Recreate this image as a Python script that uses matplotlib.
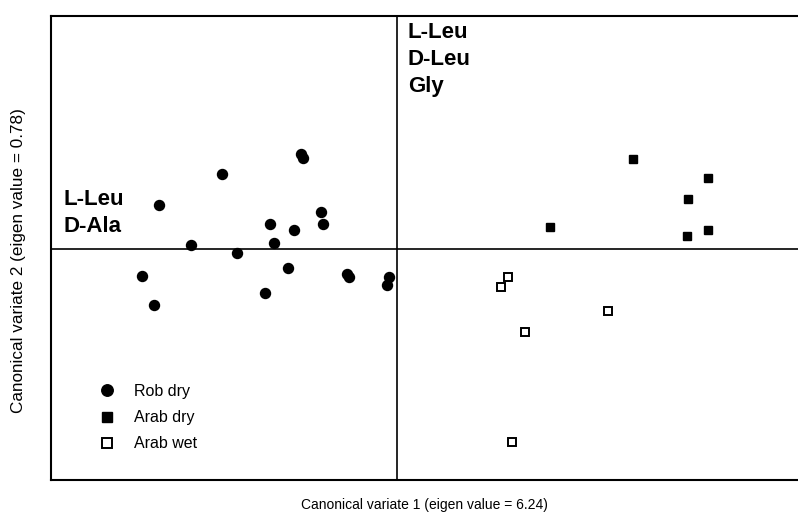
import numpy as np
import matplotlib
matplotlib.use("Agg")
import matplotlib.pyplot as plt

plt.rcParams['font.family'] = ['Liberation Sans', 'DejaVu Sans']

# canonical variate scores per group (CV1, CV2)
rob_dry_x = [-4.76, -3.50, -1.92, -1.88, -4.12, -3.20, -2.54, -2.46, -2.06, -1.52,
             -1.48, -5.10, -4.86, -2.18, -2.64, -1.00, -0.96, -0.16, -0.20]
rob_dry_y = [0.88, 1.50, 1.90, 1.82, 0.08, -0.08, 0.50, 0.12, 0.38, 0.74,
             0.50, -0.54, -1.12, -0.38, -0.88, -0.50, -0.56, -0.56, -0.72]

arab_dry_x = [4.72, 6.22, 5.82, 3.06, 5.80, 6.22]
arab_dry_y = [1.80, 1.42, 1.00, 0.44, 0.26, 0.38]

arab_wet_x = [2.22, 2.08, 4.22, 2.56, 2.30]
arab_wet_y = [-0.56, -0.76, -1.24, -1.66, -3.86]

# amino acids loading on each side
left_labels = ["L-Leu", "D-Ala"]
right_labels = ["L-Leu", "D-Leu", "Gly"]

fig = plt.figure(figsize=(7.98, 5.17), dpi=100)
ax = fig.add_axes([0.0639, 0.0716, 0.9361, 0.8984])

ax.plot(rob_dry_x, rob_dry_y, 'o', color='black', markersize=7.2,
        linestyle='none', label='Rob dry')
ax.plot(arab_dry_x, arab_dry_y, 's', color='black', markersize=6.3,
        linestyle='none', label='Arab dry')
ax.plot(arab_wet_x, arab_wet_y, 's', markerfacecolor='white',
        markeredgecolor='black', markeredgewidth=1.4, markersize=6.0,
        linestyle='none', label='Arab wet')

ax.axhline(0, color='black', linewidth=1.2, zorder=0)
ax.axvline(0, color='black', linewidth=1.2, zorder=0)

ax.set_xlim(-6.92, 8.02)
ax.set_ylim(-4.62, 4.67)
ax.set_xticks([])
ax.set_yticks([])
for side in ['left', 'top', 'bottom']:
    ax.spines[side].set_linewidth(1.5)
ax.spines['right'].set_visible(False)

for i, lab in enumerate(left_labels):
    ax.text(-6.66, 0.98 - 0.54 * i, lab, fontsize=16, fontweight='bold',
            ha='left', va='center')
for i, lab in enumerate(right_labels):
    ax.text(0.22, 4.34 - 0.54 * i, lab, fontsize=16, fontweight='bold',
            ha='left', va='center')

ax.legend(loc='center left', bbox_to_anchor=(0.0643, 0.134), frameon=False,
          fontsize=11.5, handlelength=1.0, handletextpad=1.2,
          labelspacing=0.70, borderpad=0, borderaxespad=0, markerscale=1.15)

fig.text(424 / 798, 1 - 505 / 517, "Canonical variate 1 (eigen value = 6.24)",
         fontsize=10, ha='center', va='center')
fig.text(19 / 798, 1 - 261 / 517, "Canonical variate 2 (eigen value = 0.78)",
         fontsize=12.3, ha='center', va='center', rotation=90)

fig.savefig("out.png", dpi=100)
